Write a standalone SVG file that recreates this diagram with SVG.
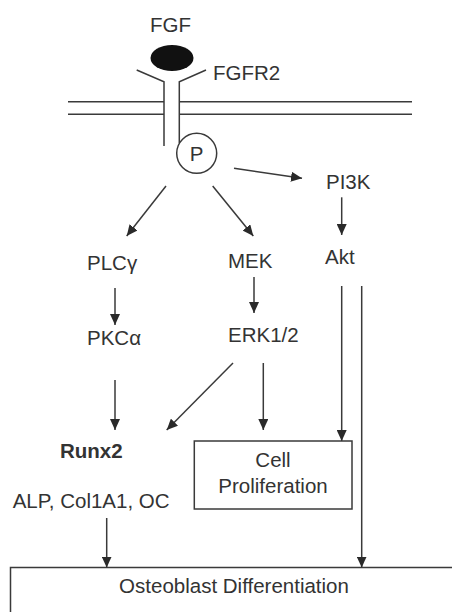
<svg xmlns="http://www.w3.org/2000/svg" width="452" height="612" viewBox="0 0 452 612">
<defs>
<style>
.t{font-family:"Liberation Sans",Arial,sans-serif;font-size:20.5px;fill:#333}
.b{font-weight:bold}
.ln{stroke:#3a3a3a;stroke-width:1.5;fill:none}
.box{stroke:#3a3a3a;stroke-width:1.5;fill:#fff}
.c{stroke:#3a3a3a;stroke-width:1.5;fill:none;marker-end:url(#ah)}
</style>
<marker id="ah" markerUnits="userSpaceOnUse" markerWidth="11" markerHeight="10" refX="11" refY="5" orient="auto">
<path d="M0,0 L11,5 L0,10 z" fill="#2a2a2a"/>
</marker>
</defs>
<rect width="452" height="612" fill="#fff"/>
<g id="membrane">
<line class="ln" x1="68" y1="101.7" x2="164" y2="101.7"/>
<line class="ln" x1="68" y1="114.3" x2="164" y2="114.3"/>
<line class="ln" x1="179.3" y1="101.7" x2="412" y2="101.7"/>
<line class="ln" x1="179.3" y1="114.3" x2="412" y2="114.3"/>
</g>
<g id="FGF">
<ellipse cx="172" cy="58" rx="21.5" ry="13" fill="#111"/>
<text class="t" x="150" y="32">FGF</text>
</g>
<g id="FGFR2">
<polyline class="ln" points="136.7,70 164,81.7 164,146"/>
<polyline class="ln" points="206,70 179.3,81.7 179.3,143"/>
<text class="t" x="213" y="80">FGFR2</text>
</g>
<g id="P">
<circle class="ln" cx="196.7" cy="153.3" r="20"/>
<text class="t" x="196.7" y="160.5" text-anchor="middle">P</text>
</g>
<g id="PI3K"><text class="t" x="326" y="189.3">PI3K</text></g>
<g id="Akt"><text class="t" x="325" y="264">Akt</text></g>
<g id="PLCg"><text class="t" x="87" y="270">PLCγ</text></g>
<g id="MEK"><text class="t" x="228" y="268">MEK</text></g>
<g id="PKCa"><text class="t" x="87" y="345">PKCα</text></g>
<g id="ERK"><text class="t" x="228" y="342">ERK1/2</text></g>
<g id="Runx2"><text class="t b" x="60" y="458">Runx2</text></g>
<g id="ALP"><text class="t" x="12.7" y="508">ALP, Col1A1, OC</text></g>
<g id="CellProliferation">
<rect class="box" x="194.3" y="441" width="157.7" height="68"/>
<text class="t" x="273" y="466.7" text-anchor="middle">Cell</text>
<text class="t" x="273" y="492.7" text-anchor="middle">Proliferation</text>
</g>
<g id="OsteoblastDifferentiation">
<rect class="box" x="10.5" y="567.5" width="460" height="60"/>
<text class="t" x="234" y="593" text-anchor="middle">Osteoblast Differentiation</text>
</g>
<g id="connectors">
<line class="c" x1="234" y1="168.3" x2="302" y2="178.3"/>
<line class="c" x1="166" y1="186" x2="126.7" y2="236"/>
<line class="c" x1="212.7" y1="186" x2="253.3" y2="236"/>
<line class="c" x1="341.7" y1="197.3" x2="341.7" y2="235"/>
<line class="c" x1="115" y1="288" x2="115" y2="325"/>
<line class="c" x1="254" y1="277" x2="254" y2="313"/>
<line class="c" x1="115" y1="380" x2="115" y2="430"/>
<line class="c" x1="233" y1="363" x2="166.7" y2="430"/>
<line class="c" x1="263.3" y1="363" x2="263.3" y2="430"/>
<line class="c" x1="341.7" y1="286" x2="341.7" y2="441"/>
<line class="c" x1="361.7" y1="286" x2="361.7" y2="567.5"/>
<line class="c" x1="106.7" y1="518" x2="106.7" y2="567.5"/>
</g>
</svg>
